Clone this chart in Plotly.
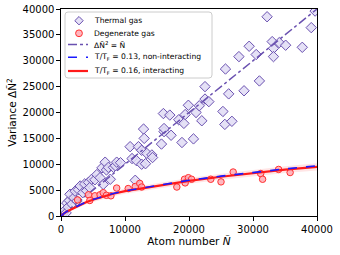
import plotly.graph_objects as go

# Thermal gas (atom number, variance)
thermal_n = [300, 600, 800, 900, 1100, 1300, 1400, 1700, 2000, 2200, 2500, 2700, 3000, 3400, 3700,
             4000, 4300, 4500, 4800, 5300, 5600, 6100, 6400, 6600, 6900, 7100, 7400, 7700, 8200,
             8500, 8700, 9300, 10800, 11100, 11600, 11800, 12100, 12600, 12600, 12900, 13000,
             13200, 13400, 14200, 14300, 15700, 16000, 16100, 16100, 17000, 17200, 18400, 18900,
             19200, 19400, 19900, 20700, 21100, 21600, 22000, 22500, 22500, 23100, 25300, 25600,
             25700, 26200, 26700, 27800, 28600, 29400, 30500, 31000, 32200, 33000, 33200, 33200,
             34100, 35100, 37700, 39100, 39700]
thermal_var = [400, 1100, 600, 2500, 1700, 3000, 4200, 2300, 3500, 4800, 2900, 5100, 5800, 4500, 6200,
               4900, 6500, 5500, 7100, 7000, 8000, 7400, 9300, 6100, 10400, 8900, 9400, 7100, 9400,
               9700, 10400, 10300, 13400, 11100, 6900, 10700, 13400, 12700, 10000, 16800, 15000,
               10100, 12100, 11800, 11300, 13900, 19800, 16300, 16900, 19500, 15600, 18600, 14200,
               17900, 19600, 21400, 14900, 20000, 21300, 18400, 25000, 22600, 22100, 20200, 17700,
               28400, 23600, 18300, 30800, 24200, 32800, 31200, 26100, 38500, 33700, 32400, 30800,
               33500, 33000, 32600, 36400, 39600]

# Degenerate gas
degen_n = [2600, 4300, 4500, 5300, 6100, 6600, 7100, 7800, 8700, 10500, 11600, 12300, 12600,
           18100, 19300, 19900, 20400, 19400, 23400, 25000, 26900, 31200, 31500, 34000, 35800]
degen_var = [3100, 4100, 3000, 3900, 4100, 4500, 4000, 3900, 5400, 5300, 5700, 6300, 5600,
             5600, 7100, 7400, 7100, 6400, 7100, 6600, 8500, 8200, 7100, 9000, 8400]

# Poissonian reference line
poisson_n = [0, 40000]
poisson_var = [0, 40000]

# Model curves
model_n = [0, 250, 500, 1000, 2000, 3000, 4000, 5000, 6000, 8000, 10000, 12500, 15000,
           20000, 25000, 30000, 35000, 40000]
nonint_var = [0, 300, 550, 950, 1600, 2200, 2750, 3200, 3600, 4300, 4850, 5400, 5900,
              6900, 7700, 8450, 9100, 9700]
int_var = [0, 290, 540, 930, 1570, 2150, 2700, 3150, 3550, 4250, 4800, 5330, 5820,
           6800, 7580, 8300, 8950, 9500]
int_upper = [0, 400, 700, 1150, 1850, 2500, 3100, 3600, 4000, 4750, 5300, 5850, 6350,
             7350, 8150, 8900, 9600, 10200]
int_lower = [0, 180, 380, 720, 1300, 1800, 2300, 2700, 3100, 3750, 4300, 4800, 5300,
             6250, 7000, 7700, 8300, 8800]

x_ticks = [0, 10000, 20000, 30000, 40000]
y_ticks = [0, 5000, 10000, 15000, 20000, 25000, 30000, 35000, 40000]

legend_labels = ["Thermal gas", "Degenerate gas", "ΔÑ<sup>2</sup> = Ñ",
                 "T/T<sub>F</sub> = 0.13, non-interacting",
                 "T/T<sub>F</sub> = 0.16, interacting"]

W, H = 340, 255
ML, MR, MT, MB = 61, 23, 9, 39
PW, PH = W - ML - MR, H - MT - MB

purple = "#6a51b0"
red_line = "#ff1a1a"
blue_line = "#1a1aff"
thermal_fill = "rgba(225,220,245,0.85)"
degen_fill = "rgba(255,170,180,0.85)"
degen_edge = "#ff3030"

fig = go.Figure()

fig.add_trace(go.Scatter(x=model_n + model_n[::-1], y=int_upper + int_lower[::-1],
                         fill="toself", fillcolor="rgba(255,80,80,0.15)",
                         line=dict(width=0), showlegend=False, hoverinfo="skip"))
fig.add_trace(go.Scatter(x=thermal_n, y=thermal_var, mode="markers", name=legend_labels[0],
                         marker=dict(symbol="diamond", size=8, color=thermal_fill,
                                     line=dict(color=purple, width=1))))
fig.add_trace(go.Scatter(x=poisson_n, y=poisson_var, mode="lines", name=legend_labels[2],
                         line=dict(color=purple, width=1.5, dash="dashdot")))
fig.add_trace(go.Scatter(x=degen_n, y=degen_var, mode="markers", name=legend_labels[1],
                         marker=dict(symbol="circle", size=6.5, color=degen_fill,
                                     line=dict(color=degen_edge, width=1))))
fig.add_trace(go.Scatter(x=model_n, y=int_var, mode="lines", name=legend_labels[4],
                         line=dict(color=red_line, width=2.2)))
fig.add_trace(go.Scatter(x=model_n, y=nonint_var, mode="lines", name=legend_labels[3],
                         line=dict(color=blue_line, width=1.6, dash="dash")))


# ---- custom compact legend (paper coordinates from pixel positions) ----
def px(xp):
    return (xp - ML) / PW


def py(yp):
    return (H - MB - yp) / PH


shapes = []
annotations = []
bx0, bx1, by0, by1, r = 65, 212, 12, 78, 3
path = (f"M {px(bx0 + r)},{py(by0)} L {px(bx1 - r)},{py(by0)} "
        f"Q {px(bx1)},{py(by0)} {px(bx1)},{py(by0 + r)} L {px(bx1)},{py(by1 - r)} "
        f"Q {px(bx1)},{py(by1)} {px(bx1 - r)},{py(by1)} L {px(bx0 + r)},{py(by1)} "
        f"Q {px(bx0)},{py(by1)} {px(bx0)},{py(by1 - r)} L {px(bx0)},{py(by0 + r)} "
        f"Q {px(bx0)},{py(by0)} {px(bx0 + r)},{py(by0)} Z")
shapes.append(dict(type="path", xref="paper", yref="paper", path=path,
                   fillcolor="rgba(255,255,255,0.85)", line=dict(color="#cccccc", width=1),
                   layer="above"))

rows = [20.7, 33.3, 44.5, 57.3, 71]
sx0, sx1, sxc = 68, 88, 79
# diamond
d = 4.2
yc = rows[0]
shapes.append(dict(type="path", xref="paper", yref="paper",
                   path=f"M {px(sxc - d)},{py(yc)} L {px(sxc)},{py(yc - d)} L {px(sxc + d)},{py(yc)} "
                        f"L {px(sxc)},{py(yc + d)} Z",
                   fillcolor=thermal_fill, line=dict(color=purple, width=1), layer="above"))
# circle
c = 3.4
yc = rows[1]
shapes.append(dict(type="circle", xref="paper", yref="paper",
                   x0=px(sxc - c), x1=px(sxc + c), y0=py(yc + c), y1=py(yc - c),
                   fillcolor=degen_fill, line=dict(color=degen_edge, width=1), layer="above"))
# lines
for yc, col, w, dash in [(rows[2], purple, 1.5, "dashdot"), (rows[3], blue_line, 1.6, "dash"),
                         (rows[4], red_line, 2.2, "solid")]:
    shapes.append(dict(type="line", xref="paper", yref="paper",
                       x0=px(sx0), x1=px(sx1), y0=py(yc), y1=py(yc),
                       line=dict(color=col, width=w, dash=dash), layer="above"))

for yc, lab in zip(rows, legend_labels):
    annotations.append(dict(xref="paper", yref="paper", x=px(92), y=py(yc), text=lab,
                            showarrow=False, xanchor="left", yanchor="middle",
                            font=dict(size=7.6, color="black")))

axis_common = dict(showline=True, linecolor="black", linewidth=1.2, mirror=True,
                   ticks="outside", ticklen=3.5, tickwidth=1, tickcolor="black",
                   showgrid=False, zeroline=False, tickformat="d", automargin=False,
                   tickfont=dict(size=10, color="black"))

fig.update_layout(
    width=W, height=H,
    margin=dict(l=ML, r=MR, t=MT, b=MB),
    paper_bgcolor="white", plot_bgcolor="white",
    font=dict(family="DejaVu Sans", color="black"),
    showlegend=False,
    shapes=shapes,
    annotations=annotations,
    xaxis=dict(range=[0, 40000], tickvals=x_ticks,
               title=dict(text="Atom number <i>Ñ</i>", font=dict(size=10.5), standoff=0),
               **axis_common),
    yaxis=dict(range=[0, 40000], tickvals=y_ticks,
               title=dict(text="Variance ΔÑ<sup>2</sup>", font=dict(size=10.5), standoff=3),
               **axis_common),
)

fig.write_html("out.html", config={"displayModeBar": False},
               post_script="document.body.style.margin='0px';")
